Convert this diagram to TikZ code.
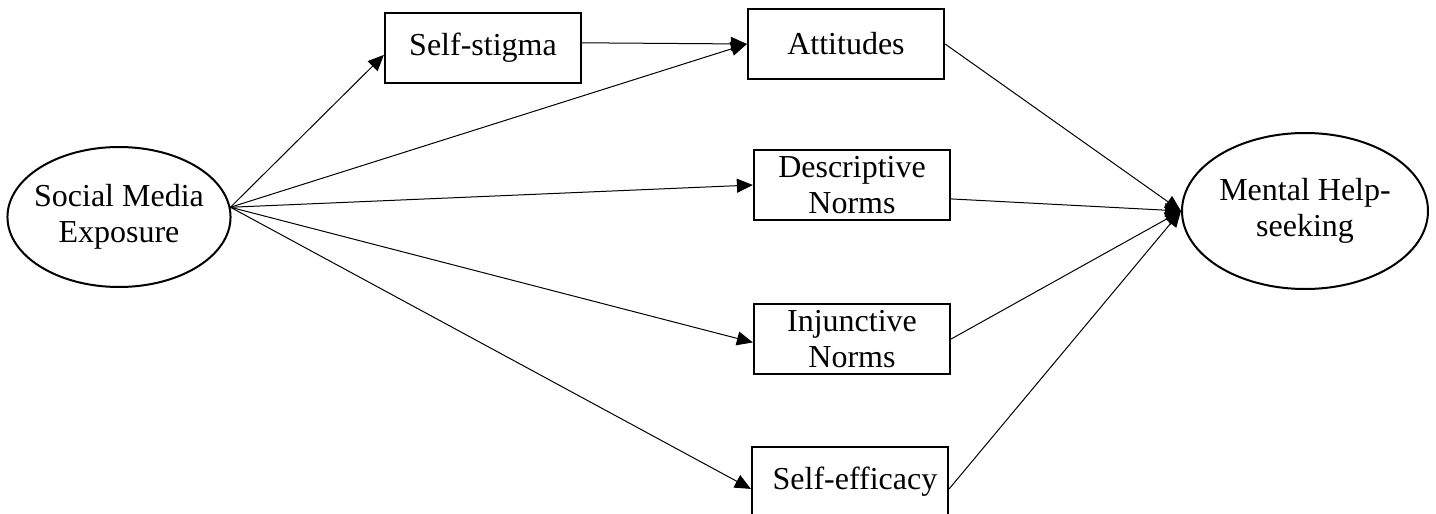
\documentclass[tikz,border=0pt]{standalone}
\usepackage{fontspec}
\setmainfont{Liberation Serif}
\usetikzlibrary{shapes.geometric,arrows.meta}

\begin{document}
\begin{tikzpicture}[x = .5pt, y = -.5pt, font=\fontsize{16}{18}\selectfont]
			\tikzset{boxed/.style={draw, rectangle, line width=1.1pt, inner sep=0pt, minimum width=98pt, minimum height=35pt, align=center}}
			\tikzset{oval/.style={draw, ellipse, line width=1pt, inner sep=-3pt, align=center}}
			\tikzset{link/.style={-{Triangle[length=8pt, width=7pt]}, line width=.5pt}}
			
			\useasboundingbox (0,0) rectangle (1436,514);
			
			\node[oval, minimum width=111pt, minimum height=70pt] (v_exp) at (119,217) {Social Media\\Exposure};
			\node[boxed] (v_stig) at (483,48) {Self-stigma};
			\node[boxed] (v_att) at (846,44) {Attitudes};
			\node[boxed] (v_desc) at (852,185) {Descriptive\\Norms};
			\node[boxed] (v_inj) at (852,339) {Injunctive\\Norms};
			\node[boxed] (v_eff) at (850,482) {\hspace{5pt}Self-efficacy};
			\node[oval, minimum width=123pt, minimum height=78pt] (v_help) at (1305,211) {Mental Help-\\seeking};
			
			\draw [link] (v_exp.5) -- (v_stig.184);
			\draw [link] (v_exp.5) -- (v_att.west);
			\draw [link] (v_stig.3) -- (v_att.west);
			\draw [link] (v_exp.5) -- (v_desc.west);
			\draw [link] (v_exp.5) -- (v_inj.182);
			\draw [link] (v_exp.5) -- (v_eff.184);
			
			\draw [link] (v_att.east) -- (v_help.west);
			\draw [link] (v_desc.-8) -- (v_help.west);
			\draw [link] (v_inj.east) -- (v_help.west);
			\draw [link] (v_eff.-4) -- (v_help.west);
			
		\end{tikzpicture}
\end{document}
